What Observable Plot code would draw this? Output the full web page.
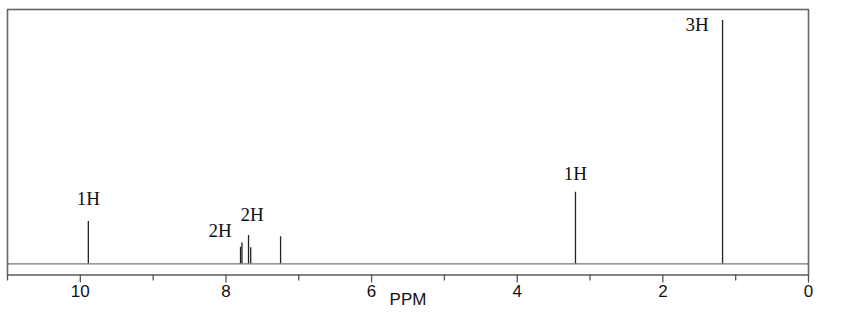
<!DOCTYPE html>
<html>
<head>
<meta charset="utf-8">
<script src="https://cdn.jsdelivr.net/npm/d3@7"></script>
<script src="https://cdn.jsdelivr.net/npm/@observablehq/plot@0.6"></script>
<style>
  html, body { margin: 0; padding: 0; background: #fff; }
  #chart svg { display: block; }
</style>
</head>
<body>
<div id="chart"></div>
<script>
// Peak positions (ppm) and relative intensities (tallest = 100)
const peakPpm = [9.89, 7.80, 7.78, 7.69, 7.66, 7.25, 3.20, 1.18];
const peakHeight = [17.4, 6.8, 8.6, 11.6, 6.6, 11.1, 29.4, 100];

// Integration labels
const labelText = ["1H", "2H", "2H", "1H", "3H"];
const labelPpm = [9.89, 8.08, 7.64, 3.20, 1.53];
const labelHeight = [26.6, 13.7, 19.9, 37.1, 98];

// Axis ticks
const majorTicks = [10, 8, 6, 4, 2, 0];
const minorTicks = [11, 9, 7, 5, 3, 1];

const peaks = peakPpm.map((p, i) => ({ppm: p, h: peakHeight[i]}));
const labels = labelText.map((t, i) => ({text: t, ppm: labelPpm[i], h: labelHeight[i]}));

const chart = Plot.plot({
  width: 849,
  height: 319,
  marginLeft: 7,
  marginRight: 41,
  marginTop: 9,
  marginBottom: 44.5,
  x: {type: "linear", domain: [11, 0], axis: null},
  y: {type: "linear", domain: [-4.6, 104.5], axis: null},
  style: {background: "#fff"},
  marks: [
    Plot.ruleY([0], {stroke: "#777", strokeWidth: 1.3}),
    Plot.ruleX(peaks, {x: "ppm", y1: 0, y2: "h", stroke: "#222", strokeWidth: 1.3}),
    Plot.frame({stroke: "#666", strokeWidth: 1.6}),
    Plot.axisX(minorTicks, {tickSize: 6, tickFormat: () => "", stroke: "#555", strokeWidth: 1.3, label: null}),
    Plot.axisX(majorTicks, {tickSize: 8, tickPadding: 2, fontSize: 17, fill: "#111",
      fontFamily: "Liberation Sans, Arial, sans-serif", stroke: "#555", strokeWidth: 1.3,
      label: null}),
    Plot.text(["PPM"], {frameAnchor: "bottom", dy: 30, fontSize: 17, fill: "#111",
      fontFamily: "Liberation Sans, Arial, sans-serif"}),
    Plot.text(labels, {x: "ppm", y: "h", text: "text", fontSize: 19, fill: "#111",
      fontFamily: "Liberation Serif, Times New Roman, serif"})
  ]
});
document.getElementById("chart").appendChild(chart);
</script>
</body>
</html>
